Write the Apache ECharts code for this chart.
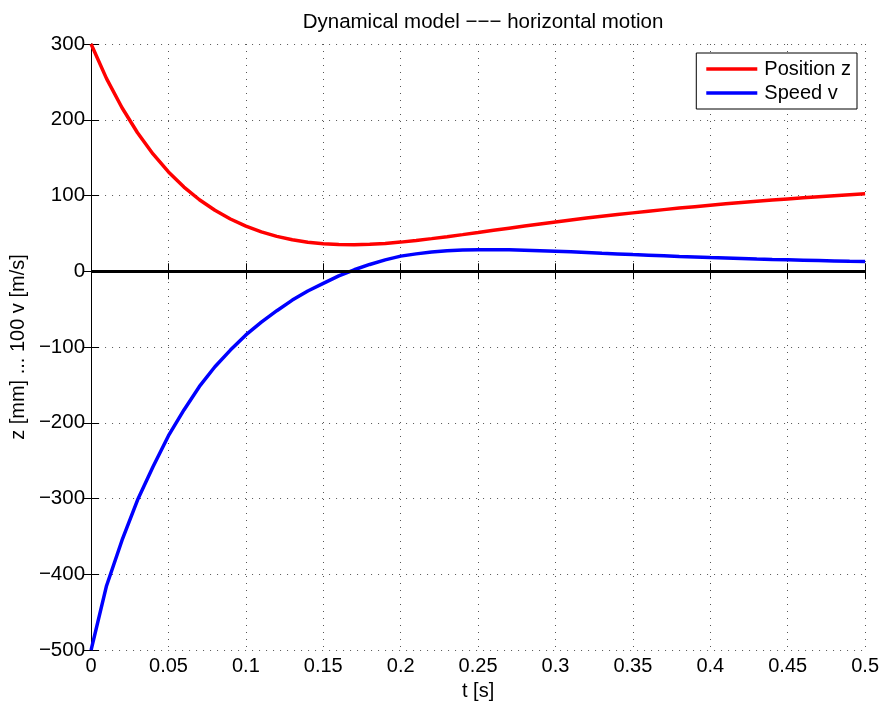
<!DOCTYPE html>
<html>
<head>
<meta charset="utf-8">
<title>Dynamical model</title>
<script src="https://cdn.jsdelivr.net/npm/echarts@6/dist/echarts.min.js"></script>
<style>
    html, body { margin: 0; padding: 0; background: #fff; }
    .chart { width: 882px; height: 706px; }
</style>
</head>
<body>
<div class="chart"></div>
<script>
// 时间轴 t [s]
var tValues = [0, 0.01, 0.02, 0.03, 0.04, 0.05, 0.06, 0.07, 0.08, 0.09,
    0.10, 0.11, 0.12, 0.13, 0.14, 0.15, 0.16, 0.17, 0.18, 0.19,
    0.20, 0.21, 0.22, 0.23, 0.24, 0.25, 0.26, 0.27, 0.28, 0.29,
    0.30, 0.31, 0.32, 0.33, 0.34, 0.35, 0.36, 0.37, 0.38, 0.39,
    0.40, 0.41, 0.42, 0.43, 0.44, 0.45, 0.46, 0.47, 0.48, 0.49, 0.50];

// 位置 z [mm]
var positionZ = [300, 254.3, 215.8, 182.9, 154.9, 131.2, 111.2, 94.4, 80.5, 69.0,
    59.6, 52.0, 46.1, 41.6, 38.4, 36.3, 35.2, 35.0, 35.6, 36.8,
    38.5, 40.7, 43.1, 45.7, 48.4, 51.2, 54.1, 56.9, 59.7, 62.4,
    65.1, 67.7, 70.2, 72.6, 74.9, 77.1, 79.3, 81.4, 83.4, 85.3,
    87.2, 89.0, 90.7, 92.4, 94.0, 95.5, 97.0, 98.4, 99.8, 101.1, 102.3];

// 速度 100 v [m/s]
var speedV = [-500, -415, -355, -302, -258, -217, -183, -152, -126, -104,
    -84, -67, -52, -38, -26, -16, -6, 2, 9, 15,
    20, 23, 25.5, 27, 28, 28.4, 28.5, 28.3, 27.8, 27.2,
    26.5, 25.7, 24.8, 23.8, 22.9, 22.0, 21.2, 20.4, 19.6, 18.9,
    18.2, 17.6, 17.0, 16.3, 15.7, 15.2, 14.7, 14.2, 13.7, 13.2, 12.8];

// 刻度
var xTicks = { min: 0, max: 0.5, interval: 0.05 };
var yTicks = { min: -500, max: 300, interval: 100 };

var seriesNames = ['Position z', 'Speed v'];
var zeroLevel = 0;

(function () {
    var myChart = echarts.init(document.querySelector('.chart'));
    var font = 'Liberation Sans, Arial, sans-serif';

    function pairs(ys) {
        return tValues.map(function (t, i) { return [t, ys[i]]; });
    }
    // 负号用长一点的减号
    function minus(v) {
        return String(v).replace('-', '\u2212');
    }

    var gridDots = { color: '#555', width: 1, type: [1, 6] };

    var option = {
        animation: false,
        backgroundColor: '#fff',
        title: {
            text: 'Dynamical model \u2212\u2212\u2212 horizontal motion',
            left: 478,
            textAlign: 'center',
            top: 7,
            textStyle: { fontFamily: font, fontSize: 20.5, fontWeight: 'normal', color: '#000' }
        },
        legend: {
            data: seriesNames,
            orient: 'vertical',
            right: 25,
            top: 53,
            padding: [6, 6, 6, 10],
            itemGap: 4,
            icon: 'rect',
            itemWidth: 51,
            itemHeight: 3.5,
            backgroundColor: '#fff',
            borderColor: '#000',
            borderWidth: 1,
            borderRadius: 0,
            textStyle: { fontFamily: font, fontSize: 20, color: '#000', padding: [0, 0, 0, 2] }
        },
        grid: {
            left: 91,
            right: 16,
            top: 44,
            bottom: 51
        },
        xAxis: [
            {
                type: 'value',
                min: xTicks.min,
                max: xTicks.max,
                interval: xTicks.interval,
                name: 't [s]',
                nameLocation: 'middle',
                nameGap: 27,
                nameTextStyle: { fontFamily: font, fontSize: 20, color: '#000' },
                axisLine: { lineStyle: { color: '#000', width: 1 } },
                axisTick: { inside: true, length: 8, lineStyle: { color: '#000' } },
                axisLabel: { fontFamily: font, fontSize: 20, color: '#000', margin: 6 },
                splitLine: { show: true, lineStyle: gridDots }
            },
            {
                type: 'value',
                position: 'top',
                min: xTicks.min,
                max: xTicks.max,
                interval: xTicks.interval,
                axisLine: { lineStyle: { color: '#000', width: 1 } },
                axisTick: { inside: true, length: 8, lineStyle: { color: '#000' } },
                axisLabel: { show: false },
                splitLine: { show: false }
            }
        ],
        yAxis: [
            {
                type: 'value',
                min: yTicks.min,
                max: yTicks.max,
                interval: yTicks.interval,
                name: 'z [mm] ... 100 v [m/s]',
                nameLocation: 'middle',
                nameGap: 58,
                nameTextStyle: { fontFamily: font, fontSize: 20, color: '#000' },
                axisLine: { lineStyle: { color: '#000', width: 1 } },
                axisTick: { inside: true, length: 8, lineStyle: { color: '#000' } },
                axisLabel: { fontFamily: font, fontSize: 20.5, color: '#000', margin: 6, formatter: minus },
                splitLine: { show: true, lineStyle: gridDots }
            },
            {
                type: 'value',
                position: 'right',
                min: yTicks.min,
                max: yTicks.max,
                interval: yTicks.interval,
                axisLine: { lineStyle: { color: '#000', width: 1 } },
                axisTick: { inside: true, length: 8, lineStyle: { color: '#000' } },
                axisLabel: { show: false },
                splitLine: { show: false }
            }
        ],
        series: [
            {
                name: seriesNames[0],
                type: 'line',
                data: pairs(positionZ),
                symbol: 'none',
                lineStyle: { color: '#ff0000', width: 3.5 },
                itemStyle: { color: '#ff0000' }
            },
            {
                name: seriesNames[1],
                type: 'line',
                data: pairs(speedV),
                symbol: 'none',
                lineStyle: { color: '#0000ff', width: 3.5 },
                itemStyle: { color: '#0000ff' },
                // 零线
                markLine: {
                    silent: true,
                    symbol: 'none',
                    label: { show: false },
                    lineStyle: { color: '#000', width: 3, type: 'solid' },
                    data: [{ yAxis: zeroLevel }]
                }
            }
        ]
    };
    myChart.setOption(option);
})();
</script>
</body>
</html>
